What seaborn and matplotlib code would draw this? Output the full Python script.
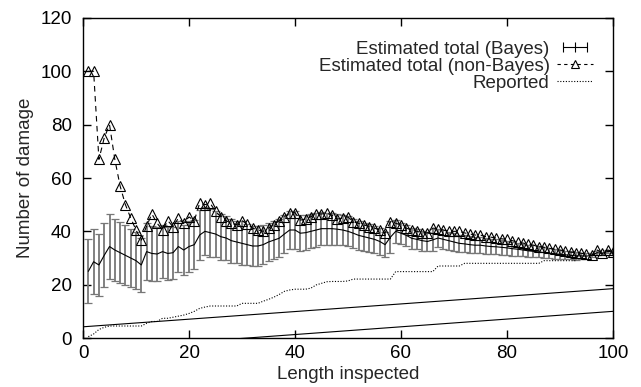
import numpy as np
import pandas as pd
import matplotlib
matplotlib.use("Agg")
import matplotlib.pyplot as plt
import seaborn as sns
from matplotlib.lines import Line2D
from matplotlib.legend_handler import HandlerLine2D

# ------------------------
# Values
# ------------------------
length = list(range(1, 101))

non_bayes = [
    100, 100, 67, 75, 80, 67, 57, 50, 45, 40.5,
    36.7, 42, 46.5, 43, 40.5, 44, 41.7, 45, 43, 45.4,
    44, 50.5, 50, 50.5, 47.5, 45.5, 44, 43, 42.5, 44,
    42.7, 41.2, 40.5, 40, 41.2, 42.4, 44, 45.5, 46.8, 47,
    44.2, 44.6, 45.5, 46.5, 46.5, 46.8, 46, 44.6, 45, 45.4,
    43.6, 43, 42.4, 41.8, 41.2, 40.5, 39.4, 43.6, 43, 42.4,
    41.2, 40.5, 40, 39.4, 39.4, 41.2, 41, 40.5, 40, 40,
    40, 39.4, 39, 38.6, 38.6, 38, 37.8, 37.5, 37.2, 37,
    36.5, 36, 35.6, 35.2, 34.8, 34.3, 34, 33.6, 33.3, 33,
    32.6, 32.2, 32, 31.8, 31.4, 31, 33, 32, 33, 32.4,
]

bayes_mean = [
    25, 28.6, 27.4, 31, 34.3, 33, 32, 31, 30, 29,
    27.4, 32.4, 31.7, 31.5, 32.4, 31.7, 32, 34.3, 33, 34.3,
    35, 38.6, 40, 39.5, 39, 38, 37.5, 36.5, 36, 35.5,
    35, 34.5, 34.5, 35, 36, 36.7, 37.4, 39, 40.5, 40.5,
    39.3, 39.5, 40, 40.5, 41, 41, 41, 40.8, 40.5, 40,
    39.3, 38.5, 38, 37.5, 37, 36.2, 35, 37.8, 40, 39.3,
    38.5, 37.4, 37, 36.5, 36.2, 36.8, 37.5, 37, 36.5, 36,
    35.5, 35.3, 35, 34.8, 34.8, 34.5, 34.3, 34.2, 34, 33.8,
    33.5, 33.3, 33, 32.7, 32.5, 32.3, 32, 31.8, 31.6, 31.4,
    31.2, 31, 30.8, 30.8, 30.7, 31, 32, 31.7, 32.5, 32.2,
]

bayes_err = [
    12, 12.2, 11.6, 12, 12.3, 11.8, 11.5, 11.2, 11, 10.8,
    10.2, 10.6, 10.4, 10.2, 10, 10, 9.8, 9.6, 9.5, 9.4,
    9.2, 9.5, 9, 9, 8.8, 8.6, 8.4, 8.2, 8, 8.3,
    7.8, 7.6, 7.4, 7.2, 7.2, 7.2, 7.2, 7.2, 7.2, 7,
    6.8, 6.6, 6.4, 6.3, 6.2, 6, 6, 5.8, 5.7, 5.6,
    5.5, 5.4, 5.3, 5.2, 5.1, 5, 4.8, 6, 4.2, 4,
    4, 3.9, 3.8, 3.7, 3.6, 4, 3.5, 3.5, 3.4, 3.4,
    3.3, 3.2, 3.2, 3.1, 3, 3, 2.9, 2.8, 2.8, 2.7,
    2.6, 2.5, 2.4, 2.3, 2.2, 2.1, 2, 1.9, 1.8, 1.7,
    1.6, 1.5, 1.4, 1.2, 1, 0.8, 0.8, 0.6, 0.5, 0.4,
]

reported_len = list(range(1, 94))
reported = [
    0.5, 1.5, 3.2, 4, 4.5, 4.5, 4.5, 4.5, 4.5, 4.5,
    4.5, 5.5, 6.2, 6.2, 7.4, 7.4, 7.8, 8.2, 8.6, 9.2,
    10, 11.1, 11.6, 12, 12, 12, 12, 12, 12, 13,
    13, 13, 13, 13.8, 14.5, 15.3, 16.3, 17.5, 18, 18.3,
    18.3, 18.3, 18.7, 19.9, 20.5, 21.1, 21.2, 21.2, 21.2, 21.4,
    22.1, 22.1, 22.1, 22.1, 22.1, 22.1, 22.1, 22.1, 24.9, 24.9,
    24.9, 24.9, 24.9, 24.9, 24.9, 24.9, 27, 27, 27, 27,
    27, 28, 28, 28, 28, 28, 28, 28, 28, 28,
    28, 28, 28, 28, 28, 28, 29, 29, 29, 29,
    29, 29, 29,
]

# two straight reference lines (end points)
line_x = [0, 100]
upper_line = [4.2, 18.5]
lower_line = [-4.5, 10]

# ------------------------
# Style
# ------------------------
sns.set_theme(style="ticks")
plt.rcParams["font.family"] = ["Liberation Sans", "DejaVu Sans"]
FS = 13.5
plt.rcParams["font.size"] = FS

fig = plt.figure(figsize=(6.41, 3.87), dpi=100)
ax = fig.add_axes([0.1295, 0.1266, 0.8268, 0.8269])

# Bayes estimate with error bars
eb = ax.errorbar(length, bayes_mean, yerr=bayes_err, fmt="none",
                 ecolor="#777777", elinewidth=1.3, capsize=3, capthick=0.9)
for cap in eb[1]:
    cap.set_color("black")
sns.lineplot(x=length, y=bayes_mean, ax=ax, color="black", lw=0.8,
             estimator=None, sort=False)

# non-Bayes estimate
sns.lineplot(x=length, y=non_bayes, ax=ax, color="black", lw=0.8,
             estimator=None, sort=False, marker="^", markersize=7,
             markerfacecolor="none", markeredgecolor="black",
             markeredgewidth=0.8, dashes=False, linestyle=(0, (5, 4)))

# reported
sns.lineplot(x=reported_len, y=reported, ax=ax, color="black", lw=0.8,
             estimator=None, sort=False, linestyle=(0, (1, 1.5)))

# straight lines
sns.lineplot(x=line_x, y=upper_line, ax=ax, color="black", lw=0.8,
             estimator=None)
sns.lineplot(x=line_x, y=lower_line, ax=ax, color="black", lw=0.8,
             estimator=None)

ax.set_xlim(0, 100)
ax.set_ylim(0, 120)
ax.set_xticks(range(0, 101, 20))
ax.set_yticks(range(0, 121, 20))
ax.tick_params(axis="both", direction="in", top=True, right=True,
               length=6, width=1, colors="black", labelsize=FS)
ax.tick_params(axis="x", pad=5)
ax.tick_params(axis="y", pad=8)
for sp in ax.spines.values():
    sp.set_color("black")
    sp.set_linewidth(1)

ax.set_xlabel("Length inspected", fontsize=FS, labelpad=3)
ax.set_ylabel("Number of damage", fontsize=FS, labelpad=5)

# legend (gnuplot style: text left, sample right)
h_bayes = Line2D([], [], color="black", lw=0.8, marker="|", markersize=7,
                 markeredgewidth=0.8)
h_nb = Line2D([], [], color="black", lw=0.8, linestyle=(0, (3, 3)),
              marker="^", markersize=6, markerfacecolor="none",
              markeredgewidth=0.8)
h_rep = Line2D([], [], color="black", lw=0.8, linestyle=(0, (1, 1.5)))
ax.legend([h_bayes, h_nb, h_rep],
          ["Estimated total (Bayes)", "Estimated total (non-Bayes)", "Reported"],
          loc="upper right", bbox_to_anchor=(0.962, 0.93), frameon=False,
          markerfirst=False, handlelength=1.9, handletextpad=0.4,
          labelspacing=0.0, borderpad=0, borderaxespad=0, fontsize=FS,
          numpoints=1, handler_map={h_bayes: HandlerLine2D(numpoints=3)})

fig.savefig("out.png", dpi=100, facecolor="white")
